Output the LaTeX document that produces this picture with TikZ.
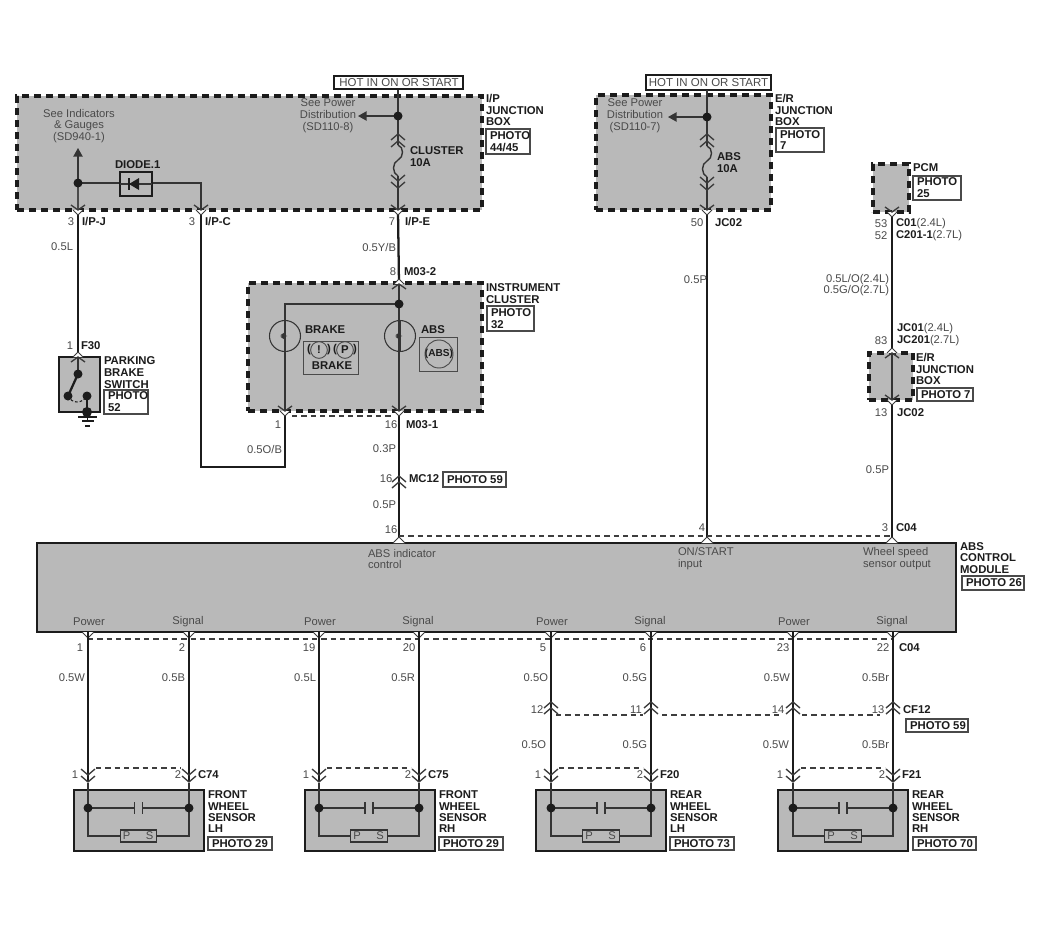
\documentclass[tikz,border=0pt]{standalone}
\usepackage{fontspec}
\setmainfont{Liberation Sans}
\usetikzlibrary{arrows.meta}
\definecolor{gb}{HTML}{B9B9B9}
\definecolor{ink}{HTML}{1C1C1C}
\definecolor{soft}{HTML}{4A4A4A}
\newcount\tc
\tikzset{
  x=0.75pt,y=-0.75pt,
  every node/.style={inner sep=0pt,outer sep=0pt},
  lab/.style={text=soft,font=\fontsize{8.4}{8.9}\selectfont,align=center},
  bl/.style={text=ink,font=\fontsize{8.5}{8.9}\selectfont\bfseries,align=left},
  dbox/.style={draw=ink,fill=gb,line width=2.3pt,dash pattern=on 5pt off 4pt},
  sbox/.style={draw=ink,fill=gb,line width=1.9pt},
  phbox/.style={draw=soft,fill=white,line width=0.9pt},
  hotbox/.style={draw=ink,fill=white,line width=0.9pt},
  wire/.style={draw=ink,line width=1.7pt},
  thin wire/.style={draw=ink!85!gb,line width=1.05pt},
  tie/.style={draw=ink!85,line width=0.85pt,dash pattern=on 4pt off 3pt},
  chev/.style={draw=ink!80!gb,line width=1pt},
  dot/.style={fill=ink},
  part/.style={draw=ink!85!gb,line width=0.8pt},
}
\newcommand\T[4]{\global\advance\tc by 1 \node[#1] (t\the\tc) at ({#2},{#3}) {#4};}
\newcommand\Bx[6]{\pgfmathsetmacro\bw{(#4-#2)*0.75}\pgfmathsetmacro\bh{(#5-#3)*0.75}
  \node[#6,minimum width=\bw pt,minimum height=\bh pt] (#1) at ({(#2+#4)/2},{(#3+#5)/2}) {};}
\newcommand\Ph[5]{\global\advance\tc by 1 \Bx{pb\the\tc}{#1}{#2}{#3}{#4}{phbox}
  \T{bl,anchor=west}{#1+4}{(#2+#4)/2}{#5}}
\newcommand\chD[2]{\draw[chev] (#1-7,#2-6) -- (#1,#2) -- (#1+7,#2-6);}
\newcommand\chU[2]{\draw[chev] (#1-7,#2+6) -- (#1,#2) -- (#1+7,#2+6);}
\newcommand\conD[2]{\fill[white] (#1-5,#2) -- (#1,#2+5) -- (#1+5,#2) -- cycle;
  \draw[chev] (#1-7,#2-5) -- (#1,#2) -- (#1+7,#2-5);\draw[chev,line width=.7pt] (#1-5,#2) -- (#1,#2+5) -- (#1+5,#2);}
\newcommand\conU[2]{\fill[white] (#1-5,#2) -- (#1,#2-5) -- (#1+5,#2) -- cycle;
  \draw[chev] (#1-7,#2+5) -- (#1,#2) -- (#1+7,#2+5);\draw[chev,line width=.7pt] (#1-5,#2) -- (#1,#2-5) -- (#1+5,#2);}
\newcommand\Dot[2]{\fill[dot] (#1,#2) circle[radius=4.5];}
\newcommand\Fuse[2]{\draw[thin wire] (#1,#2) .. controls (#1+6,#2+2) and (#1+6,#2+12) .. (#1,#2+15) .. controls (#1-6,#2+18) and (#1-6,#2+28) .. (#1,#2+31);}
\newcommand\Lamp[2]{\draw[part] (#1,#2) circle[radius=15.5];
  \draw[thin wire] (#1,#2-16) -- (#1,#2+16);
  \draw[part,line width=1.1pt] (#1,#2-3) -- (#1-3,#2-1) -- (#1,#2) -- (#1-3,#2+1) -- (#1,#2+3);}
\begin{document}
\begin{tikzpicture}
\useasboundingbox[fill=white] (0,0) rectangle (1050,928);
% --- boxes
\Bx{ipbox}{17}{96}{482}{210}{dbox}
\Bx{erbox}{596}{95}{771}{210}{dbox}
\Bx{clbox}{248}{283}{482}{411}{dbox}
\Bx{pcmbox}{873}{164}{909}{212}{dbox}
\Bx{erbox2}{869}{353}{913}{400}{dbox}
\Bx{pbsw}{59}{357}{100}{412}{sbox}
\Bx{absmod}{37}{543}{956}{632}{sbox}
\Bx{hot1}{334}{76}{463}{89}{hotbox}
\Bx{hot2}{646}{75}{771}{90}{hotbox}
\T{lab,font=\fontsize{8.6}{9}\selectfont}{399}{82.5}{HOT IN ON OR START}
\T{lab,font=\fontsize{8.6}{9}\selectfont}{708.5}{82.5}{HOT IN ON OR START}
% --- named points
\coordinate (ipJ) at (78,211);
\coordinate (ipC) at (201,211);
\coordinate (ipE) at (398,211);
\coordinate (ipTop) at (398,90);
\coordinate (ipDot) at (398,116);
\coordinate (ipArrow) at (358,116);
\coordinate (ipF1) at (398,145);
\coordinate (ipF2) at (398,176);
\coordinate (upTip) at (78,148);
\coordinate (upDot) at (78,183);
\coordinate (f30) at (78,352);
\coordinate (m2) at (399,284);
\coordinate (m1) at (399,411);
\coordinate (brPin) at (285,411);
\coordinate (clDot) at (399,304);
\coordinate (brTop) at (285,304);
\coordinate (cRun) at (201,467);
\coordinate (cRun2) at (285,467);
\coordinate (mc) at (399,477);
\coordinate (mod16) at (399,537);
\coordinate (erTop) at (707,90);
\coordinate (erDot) at (707,117);
\coordinate (erArrow) at (668,117);
\coordinate (erF1) at (707,146);
\coordinate (erF2) at (707,177);
\coordinate (erPin) at (707,210);
\coordinate (mod4) at (707,537);
\coordinate (pcmPin) at (892,212);
\coordinate (jcTop) at (892,352);
\coordinate (jcBot) at (892,400);
\coordinate (mod3) at (892,537);
% --- wires, upper part
\draw[thin wire] (ipTop) -- (ipDot) -- (ipF1);
\draw[thin wire] (ipF2) -- (ipE);
\draw[thin wire,-{Triangle[length=6.5pt,width=7pt]}] (ipDot) -- (ipArrow);
\Fuse{398}{145}
\draw[thin wire,-{Triangle[length=6.5pt,width=7pt]}] (upDot) -- (upTip);
\draw[wire,draw=ink!70!gb] (upDot) -- (ipJ);
\draw[wire] (ipJ) -- (f30);
\draw[thin wire] (upDot) -- (ipC |- upDot) -- (ipC);
\draw[wire,line cap=butt] (ipC) -- (cRun) -- (cRun2) -- (brPin);
\draw[wire] (ipE) -- (m2);
\draw[thin wire] (m2) -- (m1);
\draw[thin wire] (clDot) -- (brTop) -- (brPin);
\draw[wire] (m1) -- (mc) -- (mod16);
\draw[thin wire] (erTop) -- (erDot) -- (erF1);
\draw[thin wire] (erF2) -- (erPin);
\draw[thin wire,-{Triangle[length=6.5pt,width=7pt]}] (erDot) -- (erArrow);
\Fuse{707}{146}
\draw[wire] (erPin) -- (mod4);
\draw[wire] (pcmPin) -- (jcTop);
\draw[thin wire] (jcTop) -- (jcBot);
\draw[wire] (jcBot) -- (mod3);
\Dot{398}{116}\Dot{78}{183}\Dot{399}{304}\Dot{707}{117}
% --- diode
\node[draw=ink,fill=gb,line width=1.3pt,minimum width=23.5pt,minimum height=18pt] (diode) at (136,184) {};
\draw[thin wire] (diode.west) -- (diode.east);
\fill[ink] (129,184) -- (139,178) -- (139,190) -- cycle;
\draw[ink,line width=1pt] (129,178) -- (129,190);
% --- connector marks, upper part
\chU{398}{134}\chU{398}{141}\chD{398}{181}\chD{398}{188}
\chU{707}{134}\chU{707}{141}\chD{707}{183}\chD{707}{190}
\conD{78}{210}\conD{201}{210}\conD{398}{210}\conD{707}{210}\conD{892}{212}
\conU{399}{284}\conD{399}{411}\conD{285}{411}
\conU{78}{357}\conU{892}{353}\conD{892}{400}
\chU{399}{476}\chU{399}{482}
\draw[tie] (292,416) -- (392,416);
\draw[tie] (399,536) -- (892,536);
\foreach \x in {399,707,892}{\fill[white] (\x-6,543) -- (\x,537) -- (\x+6,543) -- cycle;\draw[chev,line width=.7pt] (\x-6,543) -- (\x,537) -- (\x+6,543);}
% --- lamps
\Lamp{285}{336}\Lamp{400}{336}
\node[draw=soft,line width=.9pt,minimum width=41.5pt,minimum height=24.5pt] (brakeLamp) at (331,358) {};
\node[draw=soft,line width=.9pt,minimum width=29pt,minimum height=25pt] (absLamp) at (438.5,354.5) {};
\node[draw=soft,line width=.7pt,circle,minimum size=12.5pt] (bang) at (319,350) {};
\node[draw=soft,line width=.7pt,circle,minimum size=12.5pt] (pee) at (345,350) {};
\node[draw=soft,line width=.7pt,circle,minimum size=21pt] (absC) at (439,354) {};
\T{bl}{319}{350}{!}\T{bl}{345}{350}{P}
\T{bl}{309}{350}{(}\T{bl}{329}{350}{)}\T{bl}{335}{350}{(}\T{bl}{355}{350}{)}
\T{bl}{332}{366}{BRAKE}
\T{bl,font=\fontsize{7.6}{8}\selectfont\bfseries}{439}{354}{(ABS)}
\T{bl,anchor=west}{305}{330}{BRAKE}
\T{bl,anchor=west}{421}{330}{ABS}
% --- parking brake switch
\coordinate (swA) at (78,374);\coordinate (swB) at (68,396);\coordinate (swC) at (87,396);\coordinate (swG) at (87,412);
\draw[thin wire] (78,357) -- (swA);
\draw[wire] (swA) -- (swB);
\draw[wire] (swC) -- (swG);
\draw[ink,line width=.8pt,dash pattern=on 2pt off 1.5pt] (swB) .. controls (72,404) and (82,404) .. (swC);
\Dot{78}{374}\Dot{68}{396}\Dot{87}{396}
\fill[ink] (87,412) circle[radius=5];
\draw[ink,line width=1pt] (78,417) -- (97,417) (82,421) -- (94,421) (85,426) -- (90,426);
\draw[ink,line width=1pt] (87.5,417) -- (87.5,421);
% --- lower wiring
\draw[tie] (88,639) -- (893,639);
\draw[tie] (556,715) -- (643,715) (662,715) -- (780,715) (802,715) -- (880,715);
\foreach \px/\sx/\pn/\sn/\pw/\sw/\i/\po/\so in {
 88/189/1/2/0.5W/0.5B/a/8/7,
 319/419/19/20/0.5L/0.5R/b/10/10,
 551/651/5/6/0.5O/0.5G/c/8/8,
 793/893/23/22/0.5W/0.5Br/d/10/10}{
  \coordinate (pw\i) at (\px,632);\coordinate (sw\i) at (\sx,632);
  \coordinate (pm\i) at (\px,782);\coordinate (sm\i) at (\sx,782);
  \fill[white] (\px-6,632) -- (\px,638) -- (\px+6,632) -- cycle;
  \fill[white] (\sx-6,632) -- (\sx,638) -- (\sx+6,632) -- cycle;
  \draw[chev,line width=.7pt] (\px-6,632) -- (\px,638) -- (\px+6,632);
  \draw[chev,line width=.7pt] (\sx-6,632) -- (\sx,638) -- (\sx+6,632);
  \draw[wire] (pw\i) -- (pm\i);
  \draw[wire] (sw\i) -- (sm\i);
  \T{lab}{\px-\po}{648}{\pn}
  \T{lab}{\sx-\so}{648}{\sn}
  \T{lab,anchor=east}{\px-3}{678}{\pw}
  \T{lab,anchor=east}{\sx-4}{678}{\sw}
  \T{lab}{\px+1}{622}{Power}
  \T{lab}{\sx-1}{622}{Signal}
}
\foreach \px/\sx/\a/\b/\cn in {88/189/1/2/C74,319/419/1/2/C75,551/651/1/2/F20,793/893/1/2/F21}{
  \chD{\px}{775}\chD{\px}{782}\chD{\sx}{775}\chD{\sx}{782}
  \draw[tie] (\px+8,768) -- (\sx-8,768);
  \T{lab}{\px-13}{775}{\a}
  \T{lab}{\sx-11}{775}{\b}
  \T{bl,anchor=west}{\sx+9}{775}{\cn}
}
\foreach \x in {551,651,793,893}{\chU{\x}{702}\chU{\x}{708}}
\T{lab}{537}{710}{12}\T{lab}{636}{710}{11}\T{lab}{778}{710}{14}\T{lab}{878}{710}{13}
\T{lab,anchor=east}{546}{745}{0.5O}\T{lab,anchor=east}{647}{745}{0.5G}
\T{lab,anchor=east}{789}{745}{0.5W}\T{lab,anchor=east}{889}{745}{0.5Br}
\T{bl,anchor=west}{903}{710}{CF12}
\Ph{906}{719}{968}{732}{PHOTO 59}
\T{bl,anchor=west}{899}{648}{C04}
% --- sensors
\foreach \l/\r/\px/\sx/\a/\b/\c/\d/\tx/\pa/\pb/\ph in {
 74/204/88/189/FRONT/WHEEL/SENSOR/LH/208/208/272/PHOTO 29,
 305/435/319/419/FRONT/WHEEL/SENSOR/RH/439/439/503/PHOTO 29,
 536/666/551/651/REAR/WHEEL/SENSOR/LH/670/670/734/PHOTO 73,
 778/908/793/893/REAR/WHEEL/SENSOR/RH/912/913/976/PHOTO 70}{
  \Bx{sb\px}{\l}{790}{\r}{851}{sbox}
  \pgfmathsetmacro\mx{(\px+\sx)/2}
  \draw[thin wire] (\px,783) -- (\px,836) -- (\mx-18,836);
  \draw[thin wire] (\sx,783) -- (\sx,836) -- (\mx+18,836);
  \draw[thin wire] (\px,808) -- (\mx-4,808);
  \draw[thin wire] (\sx,808) -- (\mx+4,808);
  \draw[thin wire] (\mx-4,802) -- (\mx-4,814) (\mx+4,802) -- (\mx+4,814);
  \node[draw=ink!85!gb,line width=.9pt,minimum width=27.5pt,minimum height=9pt] (ps\px) at (\mx,836) {};
  \T{lab}{\mx-12}{836}{P}\T{lab}{\mx+11}{836}{S}
  \Dot{\px}{808}\Dot{\sx}{808}
  \T{bl,anchor=west}{\tx}{795}{\a}\T{bl,anchor=west}{\tx}{806.5}{\b}\T{bl,anchor=west}{\tx}{817.5}{\c}\T{bl,anchor=west}{\tx}{829}{\d}
  \Ph{\pa}{837}{\pb}{850}{\ph}
}
% --- upper labels
\T{lab}{79}{126}{See Indicators\\\& Gauges\\(SD940-1)}
\T{lab}{328}{116}{See Power\\Distribution\\(SD110-8)}
\T{lab}{635}{116}{See Power\\Distribution\\(SD110-7)}
\T{bl,anchor=west}{115}{165}{DIODE.1}
\T{bl,anchor=west}{410}{157}{CLUSTER\\10A}
\T{bl,anchor=west}{717}{163}{ABS\\10A}
\T{bl,anchor=west}{486}{110}{I/P\\JUNCTION\\BOX}
\Ph{486}{129}{530}{154}{PHOTO\\44/45}
\T{bl,anchor=west}{775}{110}{E/R\\JUNCTION\\BOX}
\Ph{776}{128}{824}{152}{PHOTO\\7}
\T{bl,anchor=west}{913}{168}{PCM}
\Ph{913}{176}{961}{200}{PHOTO\\25}
\T{lab}{71}{222}{3}\T{bl,anchor=west}{82}{222}{I/P-J}
\T{lab}{192}{222}{3}\T{bl,anchor=west}{205}{222}{I/P-C}
\T{lab}{392}{222}{7}\T{bl,anchor=west}{405}{222}{I/P-E}
\T{lab}{697}{223}{50}\T{bl,anchor=west}{715}{223}{JC02}
\T{lab}{881}{224}{53}\T{lab}{881}{236}{52}
\T{lab,anchor=west}{896}{224}{{\bfseries\color{ink}C01}(2.4L)}
\T{lab,anchor=west}{896}{236}{{\bfseries\color{ink}C201-1}(2.7L)}
\T{lab,anchor=east}{73}{247}{0.5L}
\T{lab,anchor=east}{396}{247}{0.5Y/B}
\T{lab,anchor=east}{707}{280}{0.5P}
\T{lab,anchor=east}{889}{280}{0.5L/O(2.4L)}
\T{lab,anchor=east}{889}{291}{0.5G/O(2.7L)}
\T{lab}{393}{272}{8}\T{bl,anchor=west}{404}{272}{M03-2}
\T{bl,anchor=west}{486}{293.5}{INSTRUMENT\\CLUSTER}
\Ph{487}{306}{534}{331}{PHOTO\\32}
\T{lab,anchor=west}{897}{329}{{\bfseries\color{ink}JC01}(2.4L)}
\T{lab,anchor=west}{897}{341}{{\bfseries\color{ink}JC201}(2.7L)}
\T{lab}{881}{341}{83}
\T{bl,anchor=west}{916}{369}{E/R\\JUNCTION\\BOX}
\Ph{917}{388}{973}{401}{PHOTO 7}
\T{lab}{881}{413}{13}\T{bl,anchor=west}{897}{413}{JC02}
\T{lab}{70}{346}{1}\T{bl,anchor=west}{81}{346}{F30}
\T{bl,anchor=west}{104}{372.5}{PARKING\\BRAKE\\SWITCH}
\Ph{104}{390}{148}{414}{PHOTO\\52}
\T{lab}{278}{425}{1}
\T{lab}{391}{425}{16}\T{bl,anchor=west}{406}{425}{M03-1}
\T{lab,anchor=east}{282}{449}{0.5O/B}
\T{lab,anchor=east}{396}{449}{0.3P}
\T{lab}{386}{479}{16}\T{bl,anchor=west}{409}{479}{MC12}
\Ph{443}{472}{506}{487}{PHOTO 59}
\T{lab,anchor=east}{396}{505}{0.5P}
\T{lab}{391}{530}{16}
\T{lab}{702}{528}{4}
\T{lab,anchor=east}{889}{470}{0.5P}
\T{lab}{885}{528}{3}\T{bl,anchor=west}{896}{528}{C04}
\T{lab,anchor=west,align=left}{368}{559}{ABS indicator\\control}
\T{lab,anchor=west,align=left}{678}{559}{ON/START\\input}
\T{lab,anchor=west,align=left}{863}{559}{Wheel speed\\sensor output}
\T{bl,anchor=west}{960}{558}{ABS\\CONTROL\\MODULE}
\Ph{962}{576}{1024}{590}{PHOTO 26}
\end{tikzpicture}
\end{document}
